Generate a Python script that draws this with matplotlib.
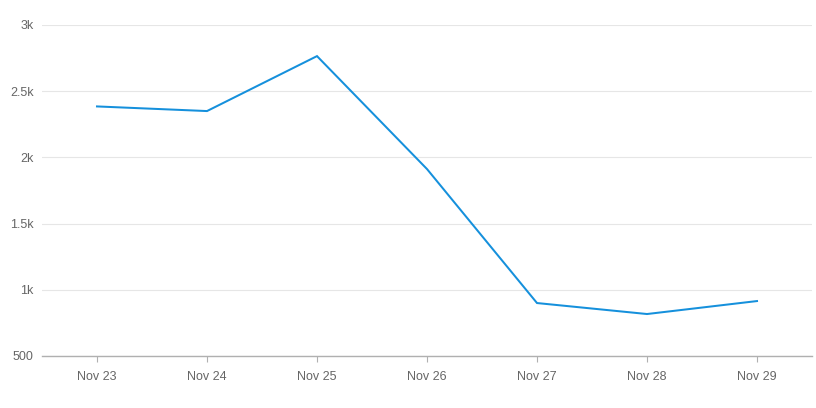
import matplotlib
matplotlib.use("Agg")
import matplotlib.pyplot as plt

categories = ["Nov 23", "Nov 24", "Nov 25", "Nov 26", "Nov 27", "Nov 28", "Nov 29"]
values = [2385, 2350, 2765, 1912, 900, 817, 915]
yticks = [500, 1000, 1500, 2000, 2500, 3000]
ytick_labels = ["500", "1k", "1.5k", "2k", "2.5k", "3k"]

plt.rcParams['font.family'] = ['Liberation Sans', 'DejaVu Sans']

fig = plt.figure(figsize=(8.16, 4.08), dpi=100)
ax = fig.add_axes([42/816, 52/408, 770/816, 331/408])

x = list(range(len(categories)))
ax.plot(x, values, color='#1590dc', linewidth=1.45, solid_joinstyle='miter')

ax.set_xlim(-0.5, len(categories) - 0.5)
ax.set_ylim(500, 3000)
ax.set_yticks(yticks)
ax.set_yticklabels(ytick_labels)
ax.set_xticks(x)
ax.set_xticklabels(categories)

ax.grid(axis='y', color='#e6e6e6', linewidth=0.8)
ax.set_axisbelow(True)
for s in ['top', 'right', 'left']:
    ax.spines[s].set_visible(False)
ax.spines['bottom'].set_color('#b0b0b0')
ax.spines['bottom'].set_linewidth(1.0)

ax.tick_params(axis='y', length=0, pad=6, labelsize=9, labelcolor='#666666')
ax.tick_params(axis='x', length=4, color='#b0b0b0', pad=7, labelsize=9, labelcolor='#666666')

fig.savefig('out.png', dpi=100)
